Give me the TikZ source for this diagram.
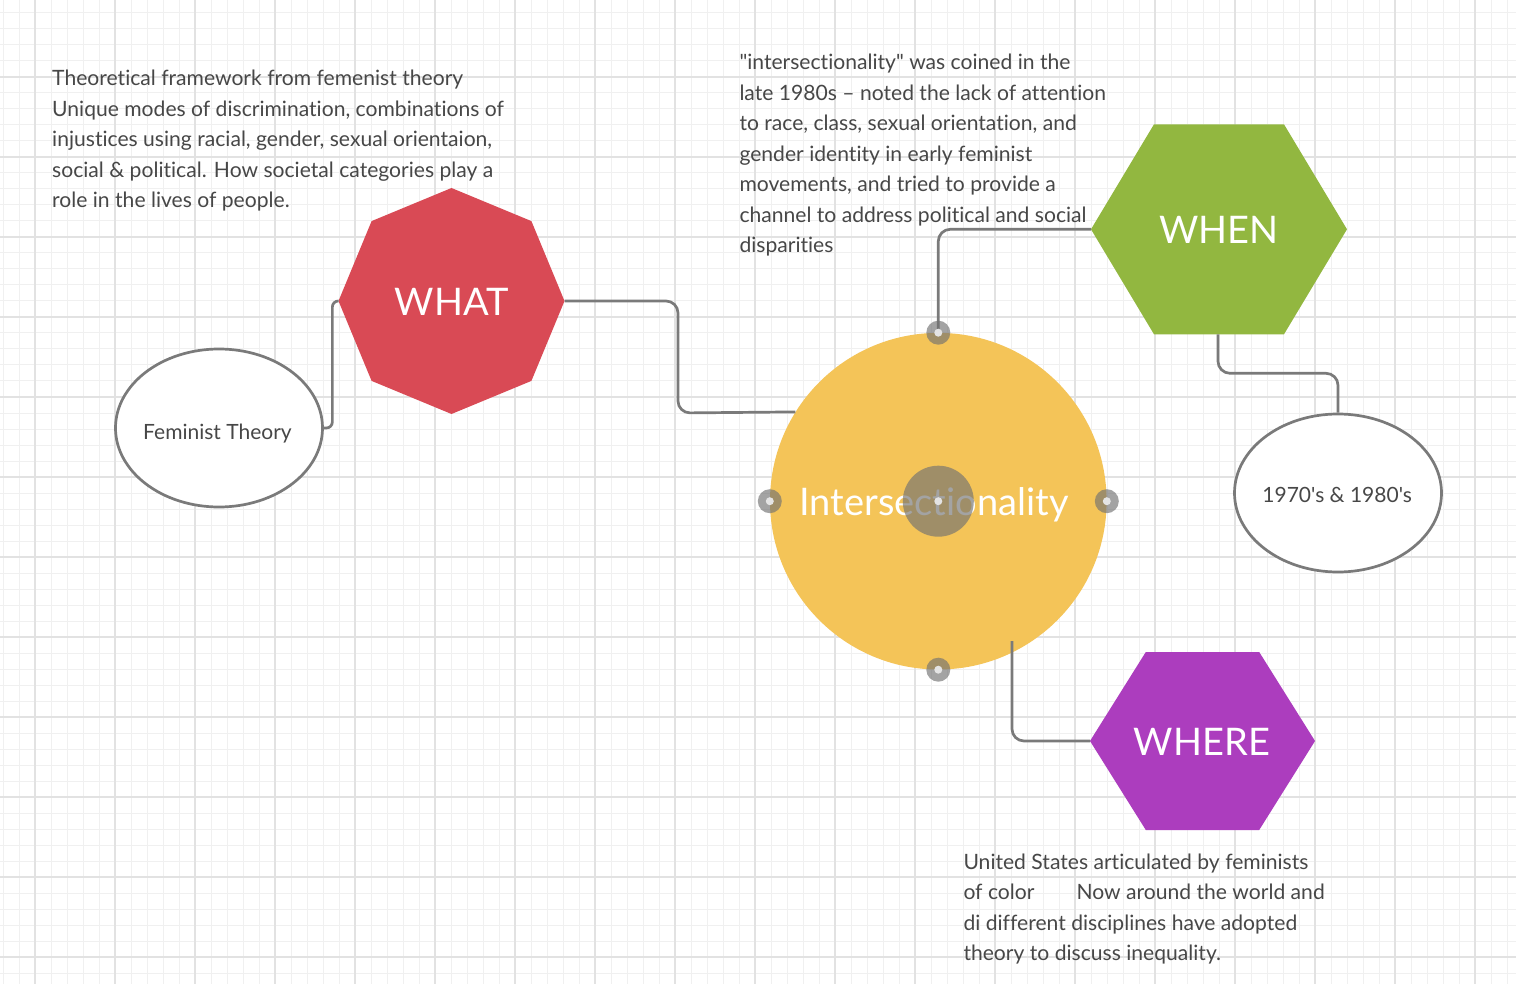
\documentclass[tikz,border=0pt]{standalone}
\usepackage{fontspec}
\setmainfont{Lato}[Ligatures={TeXOff,CommonOff}]
\usetikzlibrary{calc,shapes.geometric}
\definecolor{gridminor}{HTML}{F0F0F0}
\definecolor{gridmajor}{HTML}{E2E2E2}
\definecolor{conncol}{HTML}{7A7A7A}
\definecolor{txtcol}{HTML}{474747}
\definecolor{whatred}{HTML}{D94A55}
\definecolor{whengreen}{HTML}{92B740}
\definecolor{wherepurple}{HTML}{AC3DBE}
\definecolor{hubyellow}{HTML}{F4C458}
\definecolor{handlegray}{HTML}{727272}
\definecolor{handledot}{HTML}{E4E4E4}
\begin{document}
\begin{tikzpicture}[x=1pt,y=-1pt,
  conn/.style={draw=conncol, line width=2.7pt, rounded corners=12pt},
  body/.style={anchor=base west, align=left, inner sep=0pt, text=txtcol, font=\fontsize{21.1}{30.5}\selectfont},
  biglabel/.style={anchor=base, text=white, inner sep=0pt, font=\fontsize{38}{40}\selectfont},
  smalllabel/.style={anchor=base, text=txtcol, inner sep=0pt, font=\fontsize{21}{24}\selectfont},
  ovalbox/.style={ellipse, draw=conncol, line width=2.7pt, fill=white, inner sep=0pt, minimum width=207pt, minimum height=158pt},
  handle/.style={circle, fill=handlegray, fill opacity=0.65, minimum size=24pt, inner sep=0pt},
  bighandle/.style={circle, fill=handlegray, fill opacity=0.65, minimum size=71pt, inner sep=0pt},
  handledotstyle/.style={circle, fill=handledot, minimum size=8pt, inner sep=0pt}
]
\useasboundingbox (0,0) rectangle (1516,984);
\fill[white] (0,0) rectangle (1516,984);
% grid
\foreach \x in {3,19,...,1515} \draw[gridminor, line width=1pt] (\x,0) -- (\x,984);
\foreach \y in {13,29,...,983} \draw[gridminor, line width=1pt] (0,\y) -- (1516,\y);
\foreach \x in {35,115,...,1515} \draw[gridmajor, line width=1.8pt] (\x,0) -- (\x,984);
\foreach \y in {77,157,...,983} \draw[gridmajor, line width=1.8pt] (0,\y) -- (1516,\y);

% WHAT octagon
\coordinate (whatc) at (451.5,301);
\fill[whatred] ($(whatc)+(0:113)$) \foreach \a in {45,90,...,315} {-- ($(whatc)+(\a:113)$)} -- cycle;
\coordinate (what-e) at ($(whatc)+(113,0)$);
\coordinate (what-w) at ($(whatc)+(-113,0)$);
\node[biglabel] (what) at (451.7,316) {WHAT};

% WHEN hexagon
\coordinate (whenc) at (1219,229.3);
\fill[whengreen] ($(whenc)+(-128,0)$) -- ($(whenc)+(-65,-105)$) -- ($(whenc)+(65,-105)$) -- ($(whenc)+(128,0)$) -- ($(whenc)+(65,105)$) -- ($(whenc)+(-65,105)$) -- cycle;
\coordinate (when-w) at ($(whenc)+(-128,0)$);
\coordinate (when-s) at ($(whenc)+(-1,105)$);
\node[biglabel] (when) at (1219,243.3) {WHEN};

% WHERE hexagon
\coordinate (wherec) at (1202.5,741);
\fill[wherepurple] ($(wherec)+(-112.5,0)$) -- ($(wherec)+(-56.7,-89)$) -- ($(wherec)+(56.7,-89)$) -- ($(wherec)+(112.5,0)$) -- ($(wherec)+(56.7,89)$) -- ($(wherec)+(-56.7,89)$) -- cycle;
\coordinate (where-w) at ($(wherec)+(-112.5,0)$);
\node[biglabel] (where) at (1202,755) {WHERE};

% ellipses
\node[ovalbox] (fem) at (219,428) {};
\node[smalllabel] (femlabel) at (217.5,439) {Feminist Theory};
\node[ovalbox] (yrs) at (1338,493) {};
\node[smalllabel] (yrslabel) at (1337.2,502.7) {1970's \& 1980's};

% hub circle
\node[circle, fill=hubyellow, minimum size=336.6pt, inner sep=0pt] (hub) at (938.3,501.2) {};
\node[biglabel] (hublabel) at (934,515) {Intersectionality};

% text blocks (anchored at the baseline of the last line)
\node[body] (txtwhat) at (52,208) {Theoretical framework from femenist theory\\
Unique modes of discrimination, combinations of\\
injustices using racial, gender, sexual orientaion,\\
social \& political. How societal categories play a\\
role in the lives of people.};
\node[body] (txtwhen) at (739.3,253) {"intersectionality" was coined in the\\
late 1980s – noted the lack of attention\\
to race, class, sexual orientation, and\\
gender identity in early feminist\\
movements, and tried to provide a\\
channel to address political and social\\
disparities};
\node[body] (txtwhere) at (963.3,960.5) {United States articulated by feminists\\
of color\hspace{42pt}Now around the world and\\
di different disciplines have adopted\\
theory to discuss inequality.};

% connectors
\draw[conn, rounded corners=6pt] (fem.east) -- ++(8.5,0) |- (what-w);
\coordinate (bend1) at (678,413);
\draw[conn] (what-e) -| (bend1) -- (hub.148.4);
\draw[conn] (hub.north) |- (when-w);
\draw[conn] (when-s) -- ++(0,39) -| (yrs.north);
\coordinate (wstart) at ($(hub.center)+(73.7,139.8)$);
\draw[conn] (wstart) |- (where-w);

% handles
\foreach \p in {north,south,east,west} {
  \node[handle] (h-\p) at (hub.\p) {};
  \node[handledotstyle] (hd-\p) at (hub.\p) {};
}
\node[bighandle] (hcenter) at (hub.center) {};
\node[handledotstyle] (hdcenter) at (hub.center) {};
\end{tikzpicture}
\end{document}
